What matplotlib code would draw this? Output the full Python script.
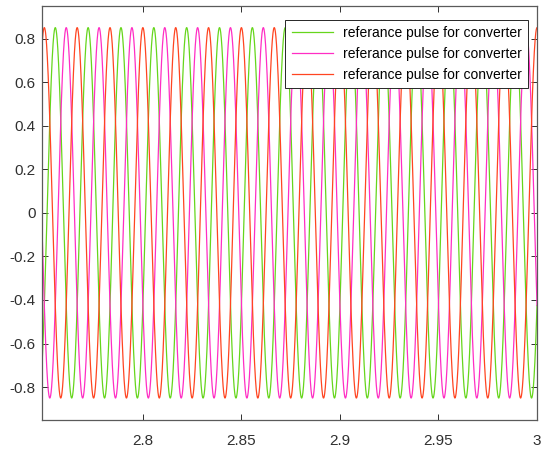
import numpy as np
import matplotlib.pyplot as plt

plt.rcParams['font.family'] = ['Liberation Sans', 'DejaVu Sans']

# three phase reference
amplitude = 0.85
freq_hz = 60
t_start = 2.749
t_end = 3.0
phase_deg = [-30, 210, 90]          # green, pink, red (sin phase)
colors = ['#66d61c', '#ff2ec4', '#ff4521']
labels = ['referance pulse for converter'] * 3

xticks = [2.8, 2.85, 2.9, 2.95, 3]
xticklabels = ['2.8', '2.85', '2.9', '2.95', '3']
yticks = [-0.8, -0.6, -0.4, -0.2, 0, 0.2, 0.4, 0.6, 0.8]
yticklabels = ['-0.8', '-0.6', '-0.4', '-0.2', '0', '0.2', '0.4', '0.6', '0.8']

t = np.linspace(t_start, t_end, 8000)

fig = plt.figure(figsize=(5.43, 4.49), dpi=100)
ax = fig.add_axes([0.078, 0.065, 0.911, 0.922])

for ph, c, lab in zip(phase_deg, colors, labels):
    y = amplitude * np.sin(2 * np.pi * freq_hz * t + np.deg2rad(ph))
    ax.plot(t, y, color=c, lw=0.9, label=lab)

ax.set_xlim(t_start, t_end)
ax.set_ylim(-0.95, 0.95)
ax.set_xticks(xticks)
ax.set_xticklabels(xticklabels)
ax.set_yticks(yticks)
ax.set_yticklabels(yticklabels)

ax.tick_params(direction='in', top=True, right=True, length=4, width=0.7,
               labelsize=11, colors='#303030')
ax.tick_params(axis='x', pad=10)
ax.tick_params(axis='y', pad=5)
for s in ax.spines.values():
    s.set_color('#5a5a5a')
    s.set_linewidth(0.9)

leg = ax.legend(loc='upper right', bbox_to_anchor=(0.982, 0.966),
                fontsize=10, handlelength=3.0,
                fancybox=False, framealpha=1, edgecolor='#262626',
                borderaxespad=0, labelspacing=0.5, borderpad=0.45,
                handletextpad=0.7)
leg.get_frame().set_linewidth(0.7)

fig.savefig('out.png', dpi=100)
